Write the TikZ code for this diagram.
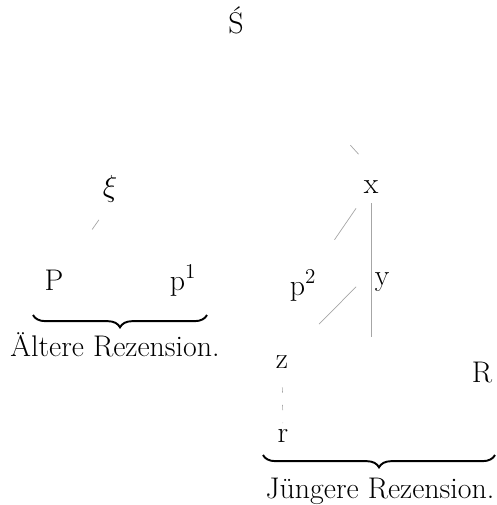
\documentclass[tikz,border=0pt]{standalone}
\usepackage{tikz}
\usetikzlibrary{decorations.pathreplacing}

\begin{document}
\begin{tikzpicture}[x=0.02cm,y=-0.02cm,
  hs/.style={font=\fontsize{17}{20}\selectfont, inner sep=1pt, anchor=base},
  stem/.style={gray!70, line width=0.4pt},
  klammer/.style={decorate, decoration={brace, mirror, amplitude=7pt}, line width=1.1pt}]
\useasboundingbox (0,0) rectangle (497,505);

% Handschriften
\node[hs] (S) at (236,33) {\'S};
\node[hs] (xi) at (110,196) {$\xi$};
\node[hs] (x) at (371,193) {x};
\node[hs] (P) at (54,290) {P};
\node[hs] (pA) at (183,290) {p$^1$};
\node[hs] (pB) at (303,295) {p$^2$};
\node[hs] (y) at (382,285) {y};
\node[hs] (z) at (282,368) {z};
\node[hs] (R) at (482,382) {R};
\node[hs] (r) at (283,442) {r};
\coordinate (xfuss) at (371,337);

% Linien
\draw[stem, shorten <=96.6pt, shorten >=18.4pt] (S.center) -- (x.north east);
\draw[stem, shorten <=11pt, shorten >=26.4pt] (xi.south) -- (P.north east);
\draw[stem, shorten <=15pt, shorten >=31.7pt] (x.center) -- (pB.center);
\draw[stem, shorten <=9.6pt] (x.center) -- (xfuss);
\draw[stem, shorten <=13.4pt, shorten >=30pt] (y.north west) -- (z.center);
\draw[stem, dash pattern=on 3pt off 7pt, shorten <=14.7pt, shorten >=7pt] (z.center) -- (r.center);

% Rezensionen
\draw[klammer] (33,315) -- (207,315);
\node[hs] (alt) at (115,356) {Ältere Rezension.};
\draw[klammer] (263,455) -- (495,455);
\node[hs] (jung) at (380,498) {Jüngere Rezension.};
\end{tikzpicture}
\end{document}
